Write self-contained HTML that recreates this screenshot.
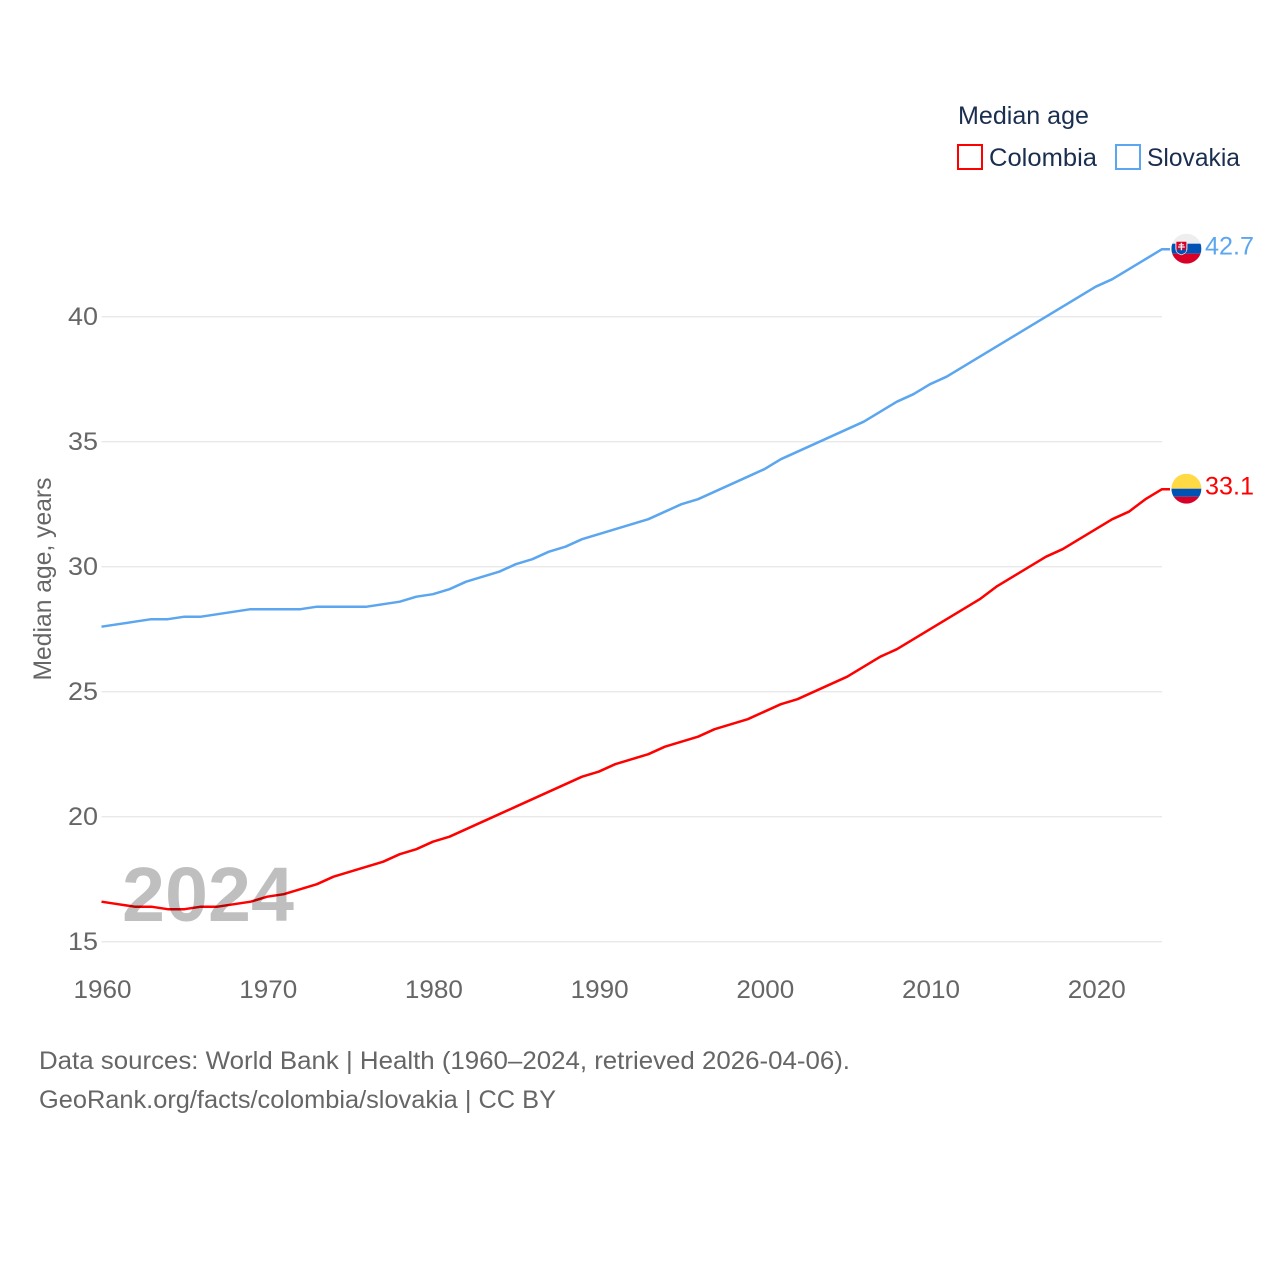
<!DOCTYPE html>
<html>
<head>
<meta charset="utf-8">
<title>Median age: Colombia and Slovakia</title>
<style>
html,body{margin:0;padding:0;background:#fff;}
svg{display:block;}
text{font-family:"Liberation Sans",sans-serif;}
</style>
</head>
<body>
<svg id="chart" xmlns="http://www.w3.org/2000/svg" width="1280" height="1280" viewBox="0 0 1280 1280">
  <rect x="0" y="0" width="1280" height="1280" fill="#fff"/>
  <g id="grid"></g>
  <g id="yticks"></g>
  <g id="xticks"></g>
  <text transform="translate(51,579) rotate(-90)" text-anchor="middle" font-size="25" fill="#666" textLength="203" lengthAdjust="spacingAndGlyphs">Median age, years</text>
  <g id="series"></g>
  <g id="ends"></g>
  <text x="122" y="921" font-size="77" font-weight="700" fill="#000" fill-opacity="0.25" textLength="172" lengthAdjust="spacingAndGlyphs">2024</text>
  <g>
    <text x="958" y="124" font-size="25" fill="#1a2e4f" textLength="131" lengthAdjust="spacingAndGlyphs">Median age</text>
    <g>
      <rect x="958" y="145" width="24" height="24" fill="#fff" stroke="#ff0000" stroke-width="2"/>
      <text x="989" y="166" font-size="25" fill="#1a2e4f" textLength="108" lengthAdjust="spacingAndGlyphs">Colombia</text>
    </g>
    <g>
      <rect x="1116" y="145" width="24" height="24" fill="#fff" stroke="#5ba6ef" stroke-width="2"/>
      <text x="1147" y="166" font-size="25" fill="#1a2e4f" textLength="93" lengthAdjust="spacingAndGlyphs">Slovakia</text>
    </g>
  </g>
  <text x="39" y="1069" font-size="25" fill="#666" textLength="811" lengthAdjust="spacingAndGlyphs">Data sources: World Bank | Health (1960–2024, retrieved 2026-04-06).</text>
  <text x="39" y="1108" font-size="25" fill="#666" textLength="517" lengthAdjust="spacingAndGlyphs">GeoRank.org/facts/colombia/slovakia | CC BY</text>
</svg>
<script>
const years = [1960,1961,1962,1963,1964,1965,1966,1967,1968,1969,1970,1971,1972,1973,1974,1975,1976,1977,1978,1979,1980,1981,1982,1983,1984,1985,1986,1987,1988,1989,1990,1991,1992,1993,1994,1995,1996,1997,1998,1999,2000,2001,2002,2003,2004,2005,2006,2007,2008,2009,2010,2011,2012,2013,2014,2015,2016,2017,2018,2019,2020,2021,2022,2023,2024];
const colombiaValues = [16.6,16.5,16.4,16.4,16.3,16.3,16.4,16.4,16.5,16.6,16.8,16.9,17.1,17.3,17.6,17.8,18.0,18.2,18.5,18.7,19.0,19.2,19.5,19.8,20.1,20.4,20.7,21.0,21.3,21.6,21.8,22.1,22.3,22.5,22.8,23.0,23.2,23.5,23.7,23.9,24.2,24.5,24.7,25.0,25.3,25.6,26.0,26.4,26.7,27.1,27.5,27.9,28.3,28.7,29.2,29.6,30.0,30.4,30.7,31.1,31.5,31.9,32.2,32.7,33.1];
const slovakiaValues = [27.6,27.7,27.8,27.9,27.9,28.0,28.0,28.1,28.2,28.3,28.3,28.3,28.3,28.4,28.4,28.4,28.4,28.5,28.6,28.8,28.9,29.1,29.4,29.6,29.8,30.1,30.3,30.6,30.8,31.1,31.3,31.5,31.7,31.9,32.2,32.5,32.7,33.0,33.3,33.6,33.9,34.3,34.6,34.9,35.2,35.5,35.8,36.2,36.6,36.9,37.3,37.6,38.0,38.4,38.8,39.2,39.6,40.0,40.4,40.8,41.2,41.5,41.9,42.3,42.7];
const yTickValues = [15,20,25,30,35,40];
const xTickValues = [1960,1970,1980,1990,2000,2010,2020];

const NS = 'http://www.w3.org/2000/svg';
function xScale(year) { return 101.5 + (year - 1960) * (1162 - 101.5) / 64; }
function yScale(value) { return 941.7 - (value - 15) * 25; }
function make(tag, attrs, parent) {
  const el = document.createElementNS(NS, tag);
  for (const k in attrs) el.setAttribute(k, attrs[k]);
  parent.appendChild(el);
  return el;
}

const gridG = document.getElementById('grid');
const yG = document.getElementById('yticks');
const xG = document.getElementById('xticks');
const seriesG = document.getElementById('series');
const endsG = document.getElementById('ends');

yTickValues.forEach(function (v) {
  const line = make('line', {x1: 101.5, x2: 1162, y1: yScale(v), y2: yScale(v), stroke: '#e9e9e9', 'stroke-width': 1.4}, gridG);
  
  
  const t = make('text', {x: 98, y: yScale(v) + 8.3, 'text-anchor': 'end', 'font-size': 25, fill: '#666', textLength: 30, lengthAdjust: 'spacingAndGlyphs'}, yG);
  
  
  t.textContent = v;
});

xTickValues.forEach(function (v) {
  const t = make('text', {x: xScale(v) + 1, y: 998, 'text-anchor': 'middle', 'font-size': 25, fill: '#666', textLength: 58, lengthAdjust: 'spacingAndGlyphs'}, xG);
  
  
  t.textContent = v;
});

function drawSeries(values, color, name) {
  let d = '';
  values.forEach(function (v, i) {
    d += (i ? 'L' : 'M') + xScale(years[i]).toFixed(2) + ' ' + yScale(v).toFixed(2);
  });
  const last = values[values.length - 1];
  d += 'L' + (xScale(years[years.length - 1]) + 8).toFixed(2) + ' ' + yScale(last).toFixed(2);
  const p = make('path', {d: d, fill: 'none', stroke: color, 'stroke-width': 2.5, 'stroke-linejoin': 'round'}, seriesG);
  
  
}
drawSeries(slovakiaValues, '#5ba6ef', 'line-slovakia');
drawSeries(colombiaValues, '#ff0000', 'line-colombia');

const FLAG_X = 1186.4;
const FLAG_R = 15;

function flagBase(name, clipId, cy) {
  const g = make('g', {}, endsG);
  
  
  const defs = make('defs', {}, g);
  const cp = make('clipPath', {id: clipId}, defs);
  make('circle', {cx: FLAG_X, cy: cy, r: FLAG_R}, cp);
  return make('g', {'clip-path': 'url(#' + clipId + ')'}, g);
}

(function () {
  const last = slovakiaValues[slovakiaValues.length - 1];
  const cy = yScale(last) - 0.5;
  const sx = FLAG_X - 5;
  const c = flagBase('flag-slovakia', 'clip-sk', cy);
  make('rect', {x: FLAG_X - FLAG_R, y: cy - FLAG_R, width: 30, height: 11, fill: '#eeeeee'}, c);
  make('rect', {x: FLAG_X - FLAG_R, y: cy - 5, width: 30, height: 10, fill: '#0052b4'}, c);
  make('rect', {x: FLAG_X - FLAG_R, y: cy + 5, width: 30, height: 10, fill: '#d80027'}, c);
  make('path', {d: 'M' + (sx - 6) + ' ' + (cy - 8) + 'h12v8q0 4.500 -6 6.500q-6 -2 -6 -6.500z', fill: '#eeeeee'}, c);
  make('path', {d: 'M' + (sx - 5) + ' ' + (cy - 7) + 'h10v7q0 3.500 -5 5.300q-5 -1.800 -5 -5.300z', fill: '#d80027'}, c);
  make('path', {d: 'M' + (sx - 5) + ' ' + (cy + 1.500) + 'q2.500 -2 5 0q2.500 -2 5 0l-1 2.200q-1.500 1.200 -4 2.100q-2.500 -.9 -4 -2.100z', fill: '#0052b4'}, c);
  make('path', {d: 'M' + (sx - 0.700) + ' ' + (cy - 6) + 'h1.400v1.500h2v1.200h-2v1h2.700v1.200h-2.700v2.600h-1.400v-2.600h-2.700v-1.200h2.700v-1h-2v-1.200h2z', fill: '#eeeeee'}, c);
  const t = make('text', {x: 1254, y: yScale(last) + 5.5, 'text-anchor': 'end', 'font-size': 25, fill: '#5ba6ef', textLength: 49, lengthAdjust: 'spacingAndGlyphs'}, endsG);
  
  
  t.textContent = last.toFixed(1);
})();

(function () {
  const last = colombiaValues[colombiaValues.length - 1];
  const cy = yScale(last) - 0.5;
  const c = flagBase('flag-colombia', 'clip-co', cy);
  make('rect', {x: FLAG_X - FLAG_R, y: cy - FLAG_R, width: 30, height: 15, fill: '#ffda44'}, c);
  make('rect', {x: FLAG_X - FLAG_R, y: cy, width: 30, height: 8, fill: '#0052b4'}, c);
  make('rect', {x: FLAG_X - FLAG_R, y: cy + 8, width: 30, height: 7, fill: '#d80027'}, c);
  const t = make('text', {x: 1254, y: yScale(last) + 5.5, 'text-anchor': 'end', 'font-size': 25, fill: '#ff0000', textLength: 49, lengthAdjust: 'spacingAndGlyphs'}, endsG);
  
  
  t.textContent = last.toFixed(1);
})();
</script>
</body>
</html>
